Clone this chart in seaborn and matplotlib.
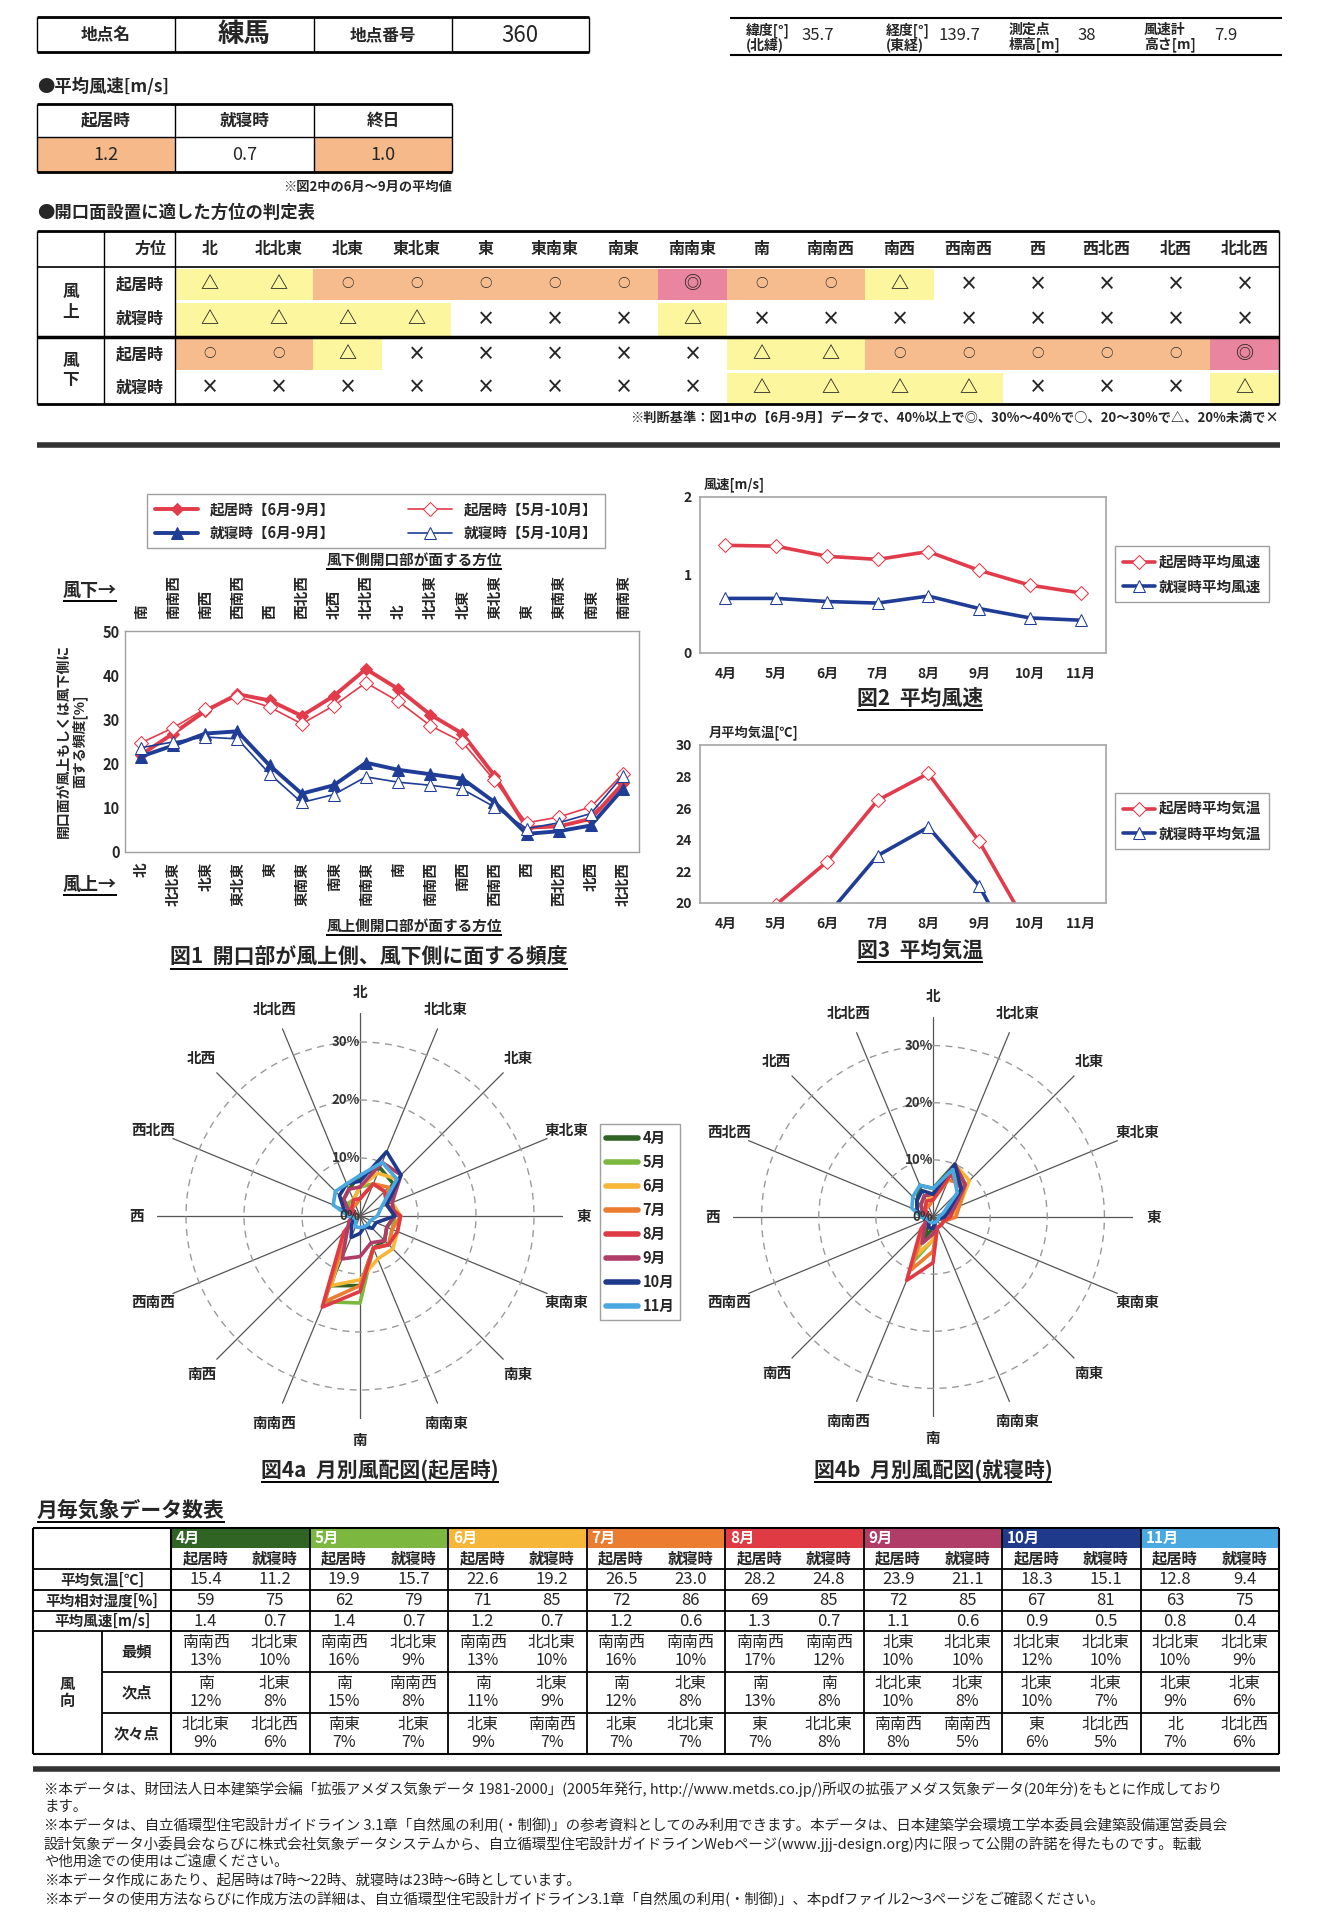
import numpy as np
import matplotlib
matplotlib.use("Agg")
import matplotlib.pyplot as plt
import seaborn as sns
from matplotlib.patches import Rectangle

sns.set_theme(style="white")
plt.rcParams["font.family"] = ["Noto Sans CJK JP", "DejaVu Sans"]
plt.rcParams["axes.unicode_minus"] = False

W, H = 1319, 1920

# ---- station info ----
station_name = "練馬"
station_no = "360"
meta_labels = ["緯度[°]\n(北緯)", "経度[°]\n(東経)", "測定点\n標高[m]", "風速計\n高さ[m]"]
meta_values = ["35.7", "139.7", "38", "7.9"]

# ---- average wind speed table ----
avg_ws_labels = ["起居時", "就寝時", "終日"]
avg_ws_values = ["1.2", "0.7", "1.0"]

# ---- directions / months ----
directions = ["北", "北北東", "北東", "東北東", "東", "東南東", "南東", "南南東",
              "南", "南南西", "南西", "西南西", "西", "西北西", "北西", "北北西"]
months = ["4月", "5月", "6月", "7月", "8月", "9月", "10月", "11月"]
month_colors = ["#2f6424", "#7cb840", "#f6b637", "#ec7d30", "#e03a44",
                "#b03d68", "#1f3a8a", "#4aa9e0"]

# ---- Fig1: frequency that openings face windward [%] ----
day_jun_sep = [22.0, 26.8, 31.9, 35.7, 34.3, 30.8, 35.3, 41.4,
               36.9, 31.1, 26.8, 17.3, 5.5, 5.8, 7.5, 15.5]
day_may_oct = [24.7, 28.1, 32.4, 35.1, 32.8, 29.0, 33.1, 38.3,
               34.1, 28.6, 24.9, 16.2, 6.6, 7.9, 10.2, 17.7]
night_jun_sep = [21.6, 24.1, 26.8, 27.3, 19.6, 13.2, 15.1, 20.2,
                 18.6, 17.6, 16.6, 11.3, 4.1, 4.7, 6.0, 14.3]
night_may_oct = [23.6, 24.9, 26.0, 25.6, 17.7, 11.2, 13.0, 17.0,
                 15.8, 15.1, 14.2, 10.2, 5.3, 6.6, 8.7, 17.3]

# ---- Fig2: monthly mean wind speed ----
ws_day_curve = [1.38, 1.37, 1.24, 1.20, 1.30, 1.06, 0.87, 0.77]
ws_night_curve = [0.70, 0.70, 0.66, 0.64, 0.73, 0.57, 0.45, 0.42]

# ---- monthly table ----
temp_day = [15.4, 19.9, 22.6, 26.5, 28.2, 23.9, 18.3, 12.8]
temp_night = [11.2, 15.7, 19.2, 23.0, 24.8, 21.1, 15.1, 9.4]
rh_day = [59, 62, 71, 72, 69, 72, 67, 63]
rh_night = [75, 79, 85, 86, 85, 85, 81, 75]
ws_day = [1.4, 1.4, 1.2, 1.2, 1.3, 1.1, 0.9, 0.8]
ws_night = [0.7, 0.7, 0.7, 0.6, 0.7, 0.6, 0.5, 0.4]
top1_day = [("南南西", 13), ("南南西", 16), ("南南西", 13), ("南南西", 16),
            ("南南西", 17), ("北東", 10), ("北北東", 12), ("北北東", 10)]
top1_night = [("北北東", 10), ("北北東", 9), ("北北東", 10), ("南南西", 10),
              ("南南西", 12), ("北北東", 10), ("北北東", 10), ("北北東", 9)]
top2_day = [("南", 12), ("南", 15), ("南", 11), ("南", 12),
            ("南", 13), ("北北東", 10), ("北東", 10), ("北東", 9)]
top2_night = [("北東", 8), ("南南西", 8), ("北東", 9), ("北東", 8),
              ("南", 8), ("北東", 8), ("北東", 7), ("北東", 6)]
top3_day = [("北北東", 9), ("南東", 7), ("北東", 9), ("北東", 7),
            ("東", 7), ("南南西", 8), ("東", 6), ("北", 7)]
top3_night = [("北北西", 6), ("北東", 7), ("南南西", 7), ("北北東", 7),
              ("北北東", 8), ("南南西", 5), ("北北西", 5), ("北北西", 6)]

# ---- Fig4: monthly wind roses [%], order = directions ----
rose_day = {
    "4月": [7, 9, 8, 5, 6, 5, 6, 6, 12, 13, 3, 1, 1, 2, 4, 5],
    "5月": [5, 6, 6, 5, 6, 6, 7, 6, 15, 16, 3, 1, 1, 1, 3, 3],
    "6月": [5, 8, 9, 6, 7, 7, 8, 8, 11, 13, 3, 1, 1, 1, 2, 3],
    "7月": [3, 6, 7, 5, 7, 6, 7, 6, 12, 16, 3, 1, 1, 1, 2, 2],
    "8月": [3, 6, 6, 5, 7, 7, 7, 6, 13, 17, 4, 1, 1, 1, 2, 3],
    "9月": [5, 10, 10, 6, 6, 5, 6, 5, 7, 8, 3, 2, 1, 2, 4, 5],
    "10月": [6, 12, 10, 5, 6, 3, 3, 2, 3, 4, 2, 1, 2, 3, 5, 6],
    "11月": [7, 10, 9, 4, 3, 2, 2, 2, 2, 2, 1, 1, 2, 5, 6, 6],
}
rose_night = {
    "4月": [5, 10, 8, 3, 2, 1, 1, 1, 2, 4, 1, 1, 2, 3, 4, 6],
    "5月": [4, 9, 7, 4, 3, 2, 2, 2, 4, 8, 2, 1, 1, 2, 3, 4],
    "6月": [4, 10, 9, 5, 3, 2, 2, 2, 4, 7, 2, 1, 1, 1, 2, 3],
    "7月": [3, 7, 8, 5, 4, 2, 2, 2, 6, 10, 2, 1, 1, 1, 2, 2],
    "8月": [3, 8, 7, 4, 3, 2, 2, 2, 8, 12, 3, 1, 1, 1, 2, 3],
    "9月": [4, 10, 8, 4, 2, 1, 1, 1, 3, 5, 2, 1, 1, 2, 3, 4],
    "10月": [4, 10, 7, 3, 2, 1, 1, 1, 2, 2, 1, 1, 2, 3, 4, 5],
    "11月": [5, 9, 6, 2, 1, 1, 1, 1, 1, 1, 1, 1, 2, 4, 5, 6],
}

RED = "#e23b4b"
BLUE = "#1f3d96"
GRADE_COLORS = {"◎": "#e9859e", "○": "#f7bc8e", "△": "#fcf69f", "×": "white"}

fig = plt.figure(figsize=(W / 100, H / 100), dpi=100)
bg = fig.add_axes([0, 0, 1, 1])
bg.set_xlim(0, W)
bg.set_ylim(H, 0)
bg.axis("off")

underlined = []


def box(x0, y0, x1, y1):
    return [x0 / W, 1 - y1 / H, (x1 - x0) / W, (y1 - y0) / H]


def put(x, y, s, fs=11, ha="center", va="center", **kw):
    return bg.text(x, y, s, fontsize=fs, ha=ha, va=va, **kw)


def line(xs, ys, lw=1.0, color="black"):
    bg.plot(xs, ys, color=color, lw=lw, solid_capstyle="butt")


def fill(x0, y0, x1, y1, color):
    bg.add_patch(Rectangle((x0, y0), x1 - x0, y1 - y0, facecolor=color, edgecolor="none"))


def grade(v):
    if v >= 40:
        return "◎"
    if v >= 30:
        return "○"
    if v >= 20:
        return "△"
    return "×"


# ================= header =================
hx = [37, 175, 314, 452, 589]
line([37, 589], [17, 17], 2)
line([37, 589], [52, 52], 2)
for x in hx:
    line([x, x], [17, 52], 1)
put(106, 35, "地点名", 12, weight="bold")
put(244, 35, station_name, 19, weight="bold")
put(383, 35, "地点番号", 12, weight="bold")
put(520, 35, station_no, 16)

line([730, 1282], [18, 18], 1.5)
line([730, 1282], [55, 55], 1.5)
for lab, val, xl, xv in zip(meta_labels, meta_values,
                            [746, 886, 1009, 1144], [801, 938, 1077, 1214]):
    put(xl, 37, lab, 10, ha="left", weight="bold", linespacing=0.95)
    put(xv, 35, val, 12, ha="left")

# ================= average wind speed =================
put(37, 87, "●平均風速[m/s]", 12.5, ha="left", weight="bold")
ax_cols = [37, 175, 314, 452]
for i, (lab, val) in enumerate(zip(avg_ws_labels, avg_ws_values)):
    x0, x1 = ax_cols[i], ax_cols[i + 1]
    if i != 1:
        fill(x0, 137, x1, 172, "#f6b98a")
    put((x0 + x1) / 2, 120.5, lab, 12, weight="bold")
    put((x0 + x1) / 2, 154.5, val, 13)
line([37, 452], [104, 104], 2)
line([37, 452], [137, 137], 1)
line([37, 452], [172, 172], 2)
for x in ax_cols:
    line([x, x], [104, 172], 1)
put(452, 187, "※図2中の6月～9月の平均値", 9.5, ha="right", weight="bold")

# ================= judgement table =================
put(37, 213, "●開口面設置に適した方位の判定表", 12.5, ha="left", weight="bold")
jx0, jx1, jx2 = 37, 104, 175
cw = (1279 - jx2) / 16
ry = [231, 267, 301, 337, 371, 404]
rows = [
    [grade(v) for v in day_jun_sep],
    [grade(v) for v in night_jun_sep],
    [grade(day_jun_sep[(i + 8) % 16]) for i in range(16)],
    [grade(night_jun_sep[(i + 8) % 16]) for i in range(16)],
]
for j, d in enumerate(directions):
    put(jx2 + cw * (j + 0.5), (ry[0] + ry[1]) / 2, d, 11.5, weight="bold")
put(jx2 - 8, (ry[0] + ry[1]) / 2, "方位", 11.5, ha="right", weight="bold")
for r, sym_row in enumerate(rows):
    y0, y1 = ry[r + 1], ry[r + 2]
    for j, s in enumerate(sym_row):
        x0 = jx2 + cw * j
        fill(x0, y0 + 1.5, x0 + cw, y1 - 1.5, GRADE_COLORS[s])
        put(x0 + cw / 2, (y0 + y1) / 2, s, 13 if s != "○" else 9, weight="bold")
    put((jx1 + jx2) / 2, (y0 + y1) / 2, "起居時" if r % 2 == 0 else "就寝時", 11.5, weight="bold")
put((jx0 + jx1) / 2, (ry[1] + ry[3]) / 2, "風\n上", 12, weight="bold", linespacing=1.1)
put((jx0 + jx1) / 2, (ry[3] + ry[5]) / 2, "風\n下", 12, weight="bold", linespacing=1.1)
line([jx0, 1279], [ry[0], ry[0]], 2)
line([jx0, 1279], [ry[1], ry[1]], 1.2)
line([jx0, 1279], [ry[3], ry[3]], 2.5)
line([jx0, 1279], [ry[5], ry[5]], 2)
for x in [jx0, jx1, jx2, 1279]:
    line([x, x], [ry[0], ry[5]], 1)
put(1279, 418, "※判断基準：図1中の【6月-9月】データで、40%以上で◎、30%～40%で○、20～30%で△、20%未満で×",
    9.5, ha="right", weight="bold")
line([37, 1280], [445, 445], 4, "#333333")

# ================= Fig1 =================
ax1 = fig.add_axes(box(125, 631, 639, 852))
xpos = np.arange(16)
sns.lineplot(x=xpos, y=day_jun_sep, ax=ax1, color=RED, lw=2.8, marker="D", markersize=6,
             markeredgecolor=RED, markerfacecolor=RED, label="起居時【6月-9月】", legend=False)
sns.lineplot(x=xpos, y=day_may_oct, ax=ax1, color=RED, lw=1.2, marker="D", markersize=7,
             markeredgecolor=RED, markerfacecolor="white", label="起居時【5月-10月】", legend=False)
sns.lineplot(x=xpos, y=night_jun_sep, ax=ax1, color=BLUE, lw=2.8, marker="^", markersize=8,
             markeredgecolor=BLUE, markerfacecolor=BLUE, label="就寝時【6月-9月】", legend=False)
sns.lineplot(x=xpos, y=night_may_oct, ax=ax1, color=BLUE, lw=1.2, marker="^", markersize=9,
             markeredgecolor=BLUE, markerfacecolor="white", label="就寝時【5月-10月】", legend=False)
ax1.set_xlim(-0.5, 15.5)
ax1.set_ylim(0, 50)
ax1.set_yticks(range(0, 51, 10))
ax1.set_yticklabels([str(v) for v in range(0, 51, 10)], fontsize=10.5, fontweight="bold")
ax1.set_xticks(xpos)
ax1.set_xticklabels([])
ax1.set_xticks(np.arange(-0.5, 16, 1), minor=True)
ax1.tick_params(axis="x", which="major", length=0)
ax1.tick_params(axis="x", which="minor", length=4, color="#888888", direction="in")
ax1.tick_params(axis="y", length=0, pad=4)
ax1.set_xlabel("")
ax1.set_ylabel("")
for sp in ax1.spines.values():
    sp.set_color("#a0a0a0")
    sp.set_linewidth(1)
trans = ax1.get_xaxis_transform()
for i, d in enumerate(directions):
    ax1.text(i, -0.045, d, transform=trans, ha="center", va="top", rotation=90,
             fontsize=10.5, fontweight="bold")
    opp = directions[(i + 8) % 16]
    ax1.text(i, 1.055, opp, transform=trans, ha="center", va="bottom", rotation=90,
             fontsize=10.5, fontweight="bold")
handles, labels = ax1.get_legend_handles_labels()
order = [0, 2, 1, 3]
leg1 = fig.legend([handles[k] for k in order], [labels[k] for k in order], ncol=2,
                  loc="center", bbox_to_anchor=(376 / W, 1 - 521 / H), frameon=True,
                  fancybox=False, edgecolor="#888888", fontsize=10.5, columnspacing=5,
                  handlelength=3, borderpad=0.5, labelspacing=0.5)
for t in leg1.get_texts():
    t.set_fontweight("bold")
underlined.append(put(414, 560, "風下側開口部が面する方位", 10.5, weight="bold"))
underlined.append(put(414, 926, "風上側開口部が面する方位", 10.5, weight="bold"))
underlined.append(put(90, 590, "風下→", 13, weight="bold"))
underlined.append(put(90, 884, "風上→", 13, weight="bold"))
put(72, 741, "開口面が風上もしくは風下側に\n面する頻度[%]", 10, rotation=90,
    weight="bold", linespacing=1.1)
underlined.append(put(369, 957, "図1  開口部が風上側、風下側に面する頻度", 15, weight="bold"))

# ================= Fig2 / Fig3 =================
mpos = np.arange(8)
ax2 = fig.add_axes(box(700, 497, 1106, 653))
sns.lineplot(x=mpos, y=ws_day_curve, ax=ax2, color=RED, lw=2.6, marker="D", markersize=7,
             markeredgecolor=RED, markerfacecolor="white", label="起居時平均風速", legend=False)
sns.lineplot(x=mpos, y=ws_night_curve, ax=ax2, color=BLUE, lw=2.6, marker="^", markersize=9,
             markeredgecolor=BLUE, markerfacecolor="white", label="就寝時平均風速", legend=False)
ax3 = fig.add_axes(box(700, 745, 1106, 903))
sns.lineplot(x=mpos, y=temp_day, ax=ax3, color=RED, lw=2.6, marker="D", markersize=7,
             markeredgecolor=RED, markerfacecolor="white", label="起居時平均気温", legend=False)
sns.lineplot(x=mpos, y=temp_night, ax=ax3, color=BLUE, lw=2.6, marker="^", markersize=9,
             markeredgecolor=BLUE, markerfacecolor="white", label="就寝時平均気温", legend=False)
ax2.set_ylim(0, 2)
ax2.set_yticks([0, 1, 2])
ax3.set_ylim(20, 30)
ax3.set_yticks(range(20, 31, 2))
for ax, cy in [(ax2, 574), (ax3, 821)]:
    ax.set_xlim(-0.5, 7.5)
    ax.set_xticks(mpos)
    ax.set_xticklabels(months, fontsize=10, fontweight="bold")
    ax.set_xticks(np.arange(-0.5, 8, 1), minor=True)
    ax.tick_params(axis="x", which="major", length=0, pad=10)
    ax.tick_params(axis="x", which="minor", length=3, color="#999999", direction="in")
    ax.tick_params(axis="y", length=0, pad=6, labelsize=10)
    for t in ax.get_yticklabels():
        t.set_fontweight("bold")
    ax.set_xlabel("")
    ax.set_ylabel("")
    for sp in ax.spines.values():
        sp.set_color("#a8a8a8")
    h, l = ax.get_legend_handles_labels()
    lg = fig.legend(h, l, loc="center", bbox_to_anchor=(1192 / W, 1 - cy / H), frameon=True,
                    fancybox=False, edgecolor="#888888", fontsize=10.5, handlelength=2.2,
                    labelspacing=0.6, borderpad=0.5, handletextpad=0.3)
    for t in lg.get_texts():
        t.set_fontweight("bold")
put(704, 485, "風速[m/s]", 9.5, ha="left", weight="bold")
put(709, 733, "月平均気温[℃]", 9.5, ha="left", weight="bold")
underlined.append(put(920, 698, "図2  平均風速", 15, weight="bold"))
underlined.append(put(920, 950, "図3  平均気温", 15, weight="bold"))

# ================= Fig4 wind roses =================
theta = np.deg2rad(np.arange(16) * 22.5)
theta_c = np.append(theta, theta[0] + 2 * np.pi)


def rose(rect, data, show_legend):
    pax = fig.add_axes(rect, projection="polar")
    pax.set_theta_zero_location("N")
    pax.set_theta_direction(-1)
    for m, c in zip(months, month_colors):
        vals = data[m]
        r = np.append(vals, vals[0])
        sns.lineplot(x=theta_c, y=r, ax=pax, sort=False, estimator=None, color=c, lw=2.6,
                     label=m, legend=False)
    pax.set_ylim(0, 35)
    pax.set_yticks([10, 20, 30])
    pax.set_yticklabels([])
    pax.set_xticks(theta)
    pax.set_xticklabels(directions, fontsize=10.5, fontweight="bold")
    pax.tick_params(axis="x", pad=2)
    pax.xaxis.grid(True, color="#555555", lw=0.9, ls="-")
    pax.yaxis.grid(True, color="#9a9a9a", lw=1.0, ls=(0, (5, 4)))
    pax.spines["polar"].set_visible(False)
    pax.set_facecolor("none")
    pax.set_xlabel("")
    pax.set_ylabel("")
    for rv in [0, 10, 20, 30]:
        pax.text(0, rv, f"{rv}%", ha="right", va="center", fontsize=9.5, fontweight="bold",
                 color="#333333")
    if show_legend:
        h, l = pax.get_legend_handles_labels()
        for hh in h:
            hh.set_linewidth(4)
        lg = fig.legend(h, l, loc="center", bbox_to_anchor=(640 / W, 1 - 1222 / H),
                        frameon=True, fancybox=False, edgecolor="#888888", fontsize=10.5,
                        handlelength=2.2, labelspacing=0.55, borderpad=0.4, handletextpad=0.3)
        for t in lg.get_texts():
            t.set_fontweight("bold")
        for hh in h:
            hh.set_linewidth(2.6)
    return pax


rose(box(157, 1013, 563, 1419), rose_day, True)
rose(box(733, 1017, 1133, 1417), rose_night, False)
underlined.append(put(380, 1470, "図4a  月別風配図(起居時)", 15, weight="bold"))
underlined.append(put(933, 1470, "図4b  月別風配図(就寝時)", 15, weight="bold"))

# ================= monthly table =================
underlined.append(put(37, 1510, "月毎気象データ数表", 15, ha="left", weight="bold"))
tx0, tx1, tx2, tx_end = 33, 102, 171, 1279
gw = (tx_end - tx2) / 8
ty = [1528, 1548, 1569, 1590, 1611, 1631, 1672, 1713, 1754]
for k, (m, c) in enumerate(zip(months, month_colors)):
    gx = tx2 + gw * k
    fill(gx, ty[0], gx + gw, ty[1], c)
    put(gx + 5, (ty[0] + ty[1]) / 2, m, 11, ha="left", weight="bold", color="white")
    put(gx + gw * 0.25, (ty[1] + ty[2]) / 2, "起居時", 11, weight="bold")
    put(gx + gw * 0.75, (ty[1] + ty[2]) / 2, "就寝時", 11, weight="bold")
    simple_rows = [(temp_day[k], temp_night[k]), (rh_day[k], rh_night[k]),
                   (ws_day[k], ws_night[k])]
    for r, (vd, vn) in enumerate(simple_rows):
        yc = (ty[r + 2] + ty[r + 3]) / 2
        put(gx + gw * 0.25, yc, f"{vd}", 12)
        put(gx + gw * 0.75, yc, f"{vn}", 12)
    for r, (dd, nn) in enumerate([(top1_day, top1_night), (top2_day, top2_night),
                                  (top3_day, top3_night)]):
        yc = (ty[r + 5] + ty[r + 6]) / 2
        put(gx + gw * 0.25, yc, f"{dd[k][0]}\n{dd[k][1]}%", 11.5, linespacing=1.05)
        put(gx + gw * 0.75, yc, f"{nn[k][0]}\n{nn[k][1]}%", 11.5, linespacing=1.05)
row_labels = ["平均気温[℃]", "平均相対湿度[%]", "平均風速[m/s]"]
for r, lab in enumerate(row_labels):
    put((tx0 + tx2) / 2, (ty[r + 2] + ty[r + 3]) / 2, lab, 10.5, weight="bold")
put((tx0 + tx1) / 2, (ty[5] + ty[8]) / 2, "風\n向", 11, weight="bold", linespacing=1.1)
for r, lab in enumerate(["最頻", "次点", "次々点"]):
    put((tx1 + tx2) / 2, (ty[r + 5] + ty[r + 6]) / 2, lab, 11, weight="bold")
line([tx0, tx_end], [ty[0], ty[0]], 1.5)
for y in ty[2:6]:
    line([tx0, tx_end], [y, y], 1.3)
for y in ty[6:8]:
    line([tx1, tx_end], [y, y], 1.3)
line([tx0, tx_end], [ty[8], ty[8]], 1.5)
line([tx0, tx0], [ty[0], ty[8]], 1.5)
line([tx1, tx1], [ty[5], ty[8]], 1.3)
for k in range(9):
    gx = tx2 + gw * k
    line([gx, gx], [ty[0], ty[8]], 1.5 if k in (0, 8) else 1.3)
line([33, 1280], [1769, 1769], 4, "#333333")

# ================= footnotes =================
notes = [
    "※本データは、財団法人日本建築学会編「拡張アメダス気象データ 1981-2000」(2005年発行, http://www.metds.co.jp/)所収の拡張アメダス気象データ(20年分)をもとに作成しており",
    "ます。",
    "※本データは、自立循環型住宅設計ガイドライン 3.1章「自然風の利用(・制御)」の参考資料としてのみ利用できます。本データは、日本建築学会環境工学本委員会建築設備運営委員会",
    "設計気象データ小委員会ならびに株式会社気象データシステムから、自立循環型住宅設計ガイドラインWebページ(www.jjj-design.org)内に限って公開の許諾を得たものです。転載",
    "や他用途での使用はご遠慮ください。",
    "※本データ作成にあたり、起居時は7時～22時、就寝時は23時～6時としています。",
    "※本データの使用方法ならびに作成方法の詳細は、自立循環型住宅設計ガイドライン3.1章「自然風の利用(・制御)」、本pdfファイル2～3ページをご確認ください。",
]
for i, s in enumerate(notes):
    put(44, 1789 + i * 18.3, s, 10.4, ha="left")

# ---- underlines ----
fig.canvas.draw()
for t in underlined:
    bb = t.get_window_extent()
    yy = H - bb.y0 + 1
    line([bb.x0, bb.x1], [yy, yy], 1.4)

fig.savefig("out.png", dpi=100, facecolor="white")
